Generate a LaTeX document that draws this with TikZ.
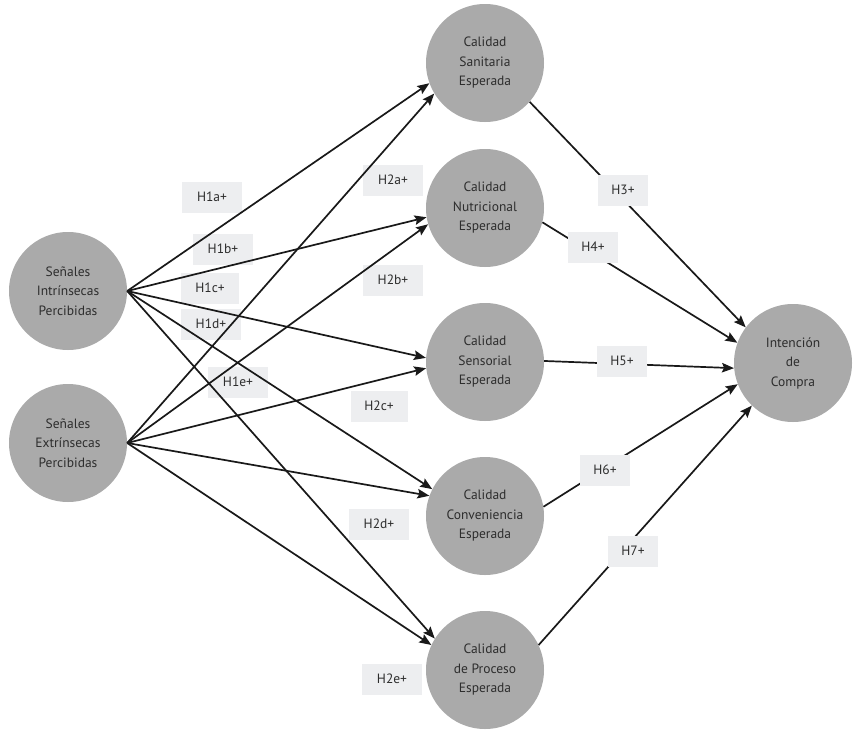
\documentclass[tikz,border=0pt]{standalone}
\usepackage{fontspec}
\setmainfont{PT Sans}
\usetikzlibrary{arrows.meta}
\definecolor{circfill}{RGB}{170,170,170}
\definecolor{txt}{RGB}{45,45,45}
\definecolor{boxfill}{RGB}{237,238,240}
\definecolor{linec}{RGB}{25,25,25}
\begin{document}
\begin{tikzpicture}[x=1pt,y=-1pt,
 concept/.style={circle, fill=circfill, minimum size=118pt, inner sep=0pt, align=center, text=txt, font=\fontsize{13.5}{19.5}\selectfont},
 hyp/.style={fill=boxfill, minimum width=60pt, minimum height=31pt, inner sep=0pt, text=txt, font=\fontsize{13.5}{15}\selectfont},
 hyps/.style={hyp, minimum width=50pt},
 arr/.style={line width=1.7pt, draw=linec, -{Stealth[length=12pt,width=9.5pt,inset=2pt]}},
]
\fill[white] (0,0) rectangle (855,734);
\useasboundingbox (0,0) rectangle (855,734);

% hypothesis labels behind lines
\node[hyp] (h1a) at (212,197) {H1a+};
\node[hyp] (h1b) at (223,249) {H1b+};
\node[hyp, minimum width=58pt] (h1c) at (210,288) {H1c+};
\node[hyp] (h1d) at (211,324) {H1d+};
\node[hyp] (h1e) at (238,382) {H1e+};
\node[hyp] (h2a) at (393,180) {H2a+};
\node[hyp] (h2b) at (393,280) {H2b+};
\node[hyp, minimum width=57pt] (h2c) at (379,406) {H2c+};
\node[hyp] (h2d) at (379,524) {H2d+};
\node[hyp] (h2e) at (392,679) {H2e+};

% concepts
\node[concept] (si) at (68,291) {Señales\\Intrínsecas\\Percibidas};
\node[concept] (se) at (68,443) {Señales\\Extrínsecas\\Percibidas};
\node[concept] (san) at (485,63) {Calidad\\Sanitaria\\Esperada};
\node[concept] (nut) at (485,208) {Calidad\\Nutricional\\Esperada};
\node[concept] (sen) at (485,362) {Calidad\\Sensorial\\Esperada};
\node[concept] (con) at (485,516) {Calidad\\Conveniencia\\Esperada};
\node[concept] (pro) at (485,670) {Calidad\\de Proceso\\Esperada};
\node[concept] (int) at (793,363) {Intención\\de\\Compra};

% H1 and H2 edges
\draw[arr] (si.east) -- (san.200);
\draw[arr] (si.east) -- (nut.189);
\draw[arr] (si.east) -- (sen.176);
\draw[arr] (si.east) -- (con.153);
\draw[arr] (si.east) -- (pro.148);
\draw[arr] (se.east) -- (san.211);
\draw[arr] (se.east) -- (nut.196);
\draw[arr] (se.east) -- (sen.186);
\draw[arr] (se.east) -- (con.160);
\draw[arr] (se.east) -- (pro.155);

% H3-H7 edges
\draw[arr] (san.319) -- (int.143);
\draw[arr] (nut.346) -- (int.160);
\draw[arr] (sen.1) -- (int.185);
\draw[arr] (con.9) -- (int.201);
\draw[arr] (pro.25) -- (int.226);

% labels on top of the edges
\node[hyps] (h3) at (623,190) {H3+};
\node[hyps] (h4) at (593,247) {H4+};
\node[hyps] (h5) at (622,361) {H5+};
\node[hyps] (h6) at (605,470) {H6+};
\node[hyps] (h7) at (633,551) {H7+};
\end{tikzpicture}
\end{document}
